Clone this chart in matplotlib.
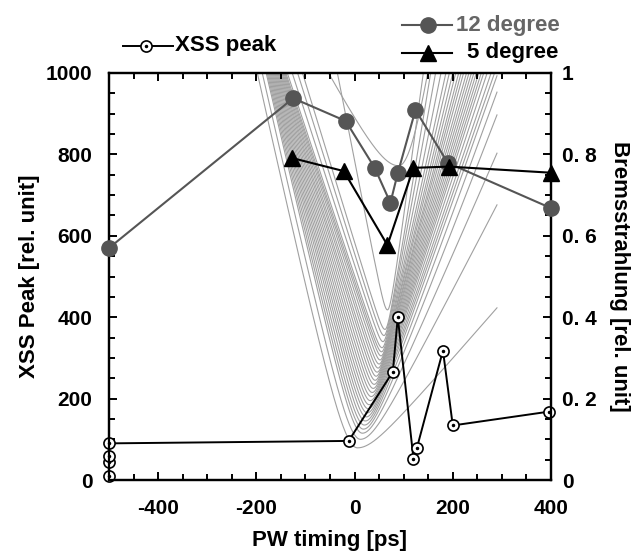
import numpy as np
import matplotlib
matplotlib.use("Agg")
import matplotlib.pyplot as plt
from matplotlib.lines import Line2D
from matplotlib.ticker import MultipleLocator, FixedLocator, FixedFormatter

plt.rcParams['font.family'] = ['Liberation Sans', 'DejaVu Sans']
plt.rcParams['font.weight'] = 'bold'
plt.rcParams['axes.unicode_minus'] = False

# XSS peak (left axis)
xss_t = [-500, -500, -500, -500, -12, 78, 88, 120, 127, 180, 200, 396]
xss_v = [10, 45, 60, 90, 96, 266, 400, 52, 79, 318, 134, 168]

# Bremsstrahlung, 12 degree (right axis)
deg12_t = [-500, -125, -18, 41, 73, 88, 124, 190, 400]
deg12_v = [0.57, 0.938, 0.882, 0.767, 0.681, 0.754, 0.909, 0.779, 0.668]

# Bremsstrahlung, 5 degree (right axis)
deg5_t = [-127, -22, 67, 120, 192, 400]
deg5_v = [0.791, 0.759, 0.577, 0.767, 0.770, 0.755]

# background V curves: left crossing of top, vertex, right end point, vertex roundness
curve_left_top = [-198, -188, -180, -178, -176, -174, -172, -170, -168, -166, -164, -162, -160,
                  -158, -156, -154, -152, -150, -148, -146, -144, -142, -140, -137, -127, -116,
                  -106, -53, -35]
curve_vx = [6, 12, 16, 18, 20, 22, 24, 26, 28, 30, 32, 34, 36, 38, 40, 42, 44, 46, 48, 50, 52,
            54, 55, 56, 58, 60, 62, 90, 67]
curve_vy = [79, 100, 115, 125, 135, 145, 155, 165, 175, 185, 195, 205, 215, 225, 235, 245, 255,
            265, 275, 285, 295, 305, 315, 325, 340, 355, 370, 772, 418]
curve_right_x = [290, 290, 290, 290, 290, 292, 285, 278, 270, 263, 258, 253, 248, 243, 238, 233,
                 228, 222, 217, 212, 206, 200, 193, 186, 176, 165, 155, 149, 140]
curve_right_y = [423, 676, 803, 897, 953, 1000, 1000, 1000, 1000, 1000, 1000, 1000, 1000, 1000,
                 1000, 1000, 1000, 1000, 1000, 1000, 1000, 1000, 1000, 1000, 1000, 1000, 1000,
                 1000, 1000]
curve_w = [40, 34, 28, 26, 24, 22, 20, 19, 18, 17, 16, 15, 14, 13, 12, 11, 10, 10, 9, 9, 8,
           8, 8, 8, 8, 8, 8, 50, 8]

fig = plt.figure(figsize=(6.42, 5.51), dpi=100)
ax = fig.add_axes([109 / 642, 1 - 480 / 551, 442 / 642, 407 / 551])
ax2 = ax.twinx()

xs = np.linspace(-230, 290, 1000)
for xl, xv, yv, xr, yr, w in zip(curve_left_top, curve_vx, curve_vy,
                                 curve_right_x, curve_right_y, curve_w):
    sl = (1000 - yv) / (np.sqrt((xv - xl) ** 2 + w ** 2) - w)
    sr = (yr - yv) / (np.sqrt((xr - xv) ** 2 + w ** 2) - w)
    s = np.where(xs < xv, sl, sr)
    ys = yv + s * (np.sqrt((xs - xv) ** 2 + w ** 2) - w)
    ax.plot(xs, ys, color='#a0a0a0', lw=0.8, zorder=1)

ax.plot(xss_t, xss_v, color='black', lw=1.4, marker='o', ms=8, mfc='white', mec='black',
        mew=1.2, zorder=5, clip_on=False)
ax.plot(xss_t, xss_v, ls='none', marker='o', ms=1.5, color='black', zorder=6, clip_on=False)

ax2.plot(deg12_t, deg12_v, color='#555555', lw=1.5, marker='o', ms=11, mfc='#555555',
         mec='#555555', zorder=3, clip_on=False)
ax2.plot(deg5_t, deg5_v, color='black', lw=1.5, marker='^', ms=11, zorder=4, clip_on=False)

ax.set_xlim(-500, 400)
ax.set_ylim(0, 1000)
ax2.set_ylim(0, 1)

ax.xaxis.set_major_locator(MultipleLocator(200))
ax.xaxis.set_minor_locator(MultipleLocator(50))
ax.yaxis.set_major_locator(MultipleLocator(200))
ax.yaxis.set_minor_locator(MultipleLocator(50))
ax2.yaxis.set_major_locator(FixedLocator([0, 0.2, 0.4, 0.6, 0.8, 1.0]))
ax2.yaxis.set_major_formatter(FixedFormatter(['0', '0. 2', '0. 4', '0. 6', '0. 8', '1']))
ax2.yaxis.set_minor_locator(MultipleLocator(0.05))

ax.tick_params(axis='x', which='both', direction='in', top=True, labelsize=15, pad=14,
               width=1.4)
ax.tick_params(axis='y', which='both', direction='in', right=False, labelsize=15, pad=12,
               width=1.4)
ax.tick_params(which='major', length=6)
ax.tick_params(which='minor', length=4)
ax2.tick_params(which='both', direction='in', labelsize=15, pad=8, width=1.4)
ax2.tick_params(which='major', length=6)
ax2.tick_params(which='minor', length=4)

for a in (ax, ax2):
    for sp in a.spines.values():
        sp.set_linewidth(1.6)

ax.set_xlabel('PW timing [ps]', fontsize=16, fontweight='bold', labelpad=8)
ax.set_ylabel('XSS Peak [rel. unit]', fontsize=16, fontweight='bold', labelpad=4)
ax2.set_ylabel('Bremsstrahlung [rel. unit]', fontsize=16, fontweight='bold', rotation=-90,
               labelpad=24)


def fx(px):
    return px / 642


def fy(py):
    return 1 - py / 551


# legend: XSS peak
fig.add_artist(Line2D([fx(123), fx(173)], [fy(46), fy(46)], color='black', lw=1.4))
fig.add_artist(Line2D([fx(146)], [fy(46)], marker='o', ms=8, mfc='white', mec='black',
                      mew=1.2))
fig.add_artist(Line2D([fx(146)], [fy(46)], marker='o', ms=1.5, color='black'))
fig.text(fx(175), fy(46), 'XSS peak', fontsize=16, fontweight='bold', ha='left', va='center')

# legend: 12 / 5 degree
fig.add_artist(Line2D([fx(402), fx(452)], [fy(25), fy(25)], color='#555555', lw=1.5))
fig.add_artist(Line2D([fx(428)], [fy(25)], marker='o', ms=11, color='#555555'))
fig.text(fx(560), fy(25), '12 degree', fontsize=16, fontweight='bold', ha='right', va='center',
         color='#666666')
fig.add_artist(Line2D([fx(402), fx(452)], [fy(53), fy(53)], color='black', lw=1.5))
fig.add_artist(Line2D([fx(428)], [fy(53)], marker='^', ms=11, color='black'))
fig.text(fx(558), fy(53), '5 degree', fontsize=16, fontweight='bold', ha='right', va='center',
         color='black')

fig.savefig('out.png', dpi=100)
